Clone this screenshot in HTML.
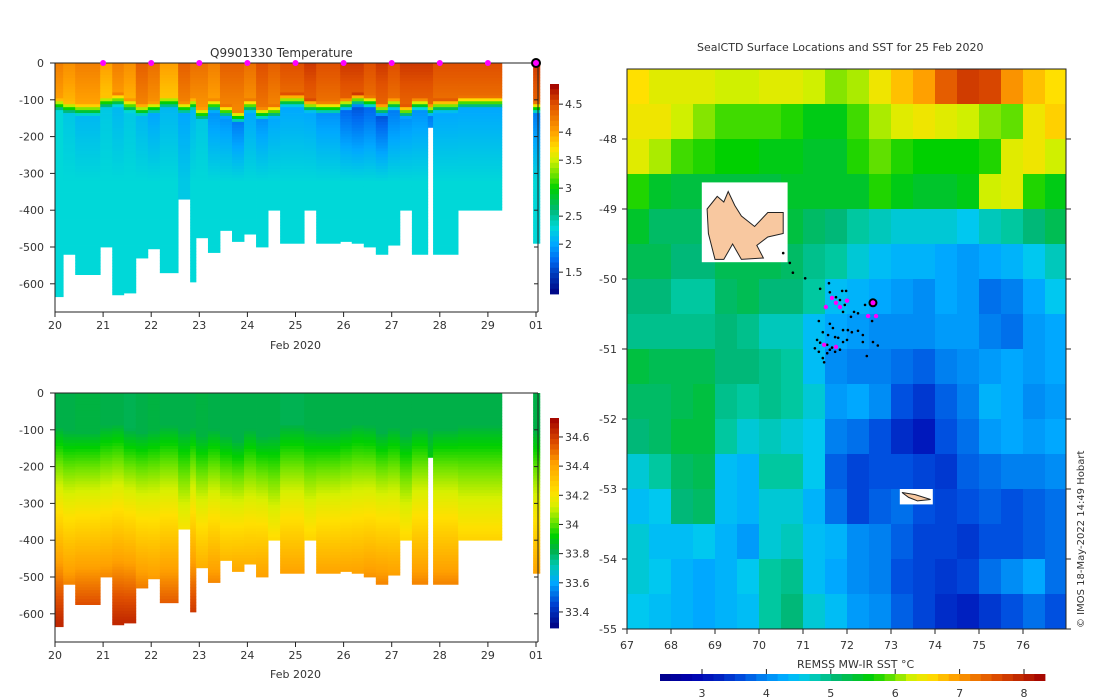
<!DOCTYPE html>
<html><head><meta charset="utf-8">
<style>
html,body{margin:0;padding:0;background:#fff;}
svg{display:block;font-family:"DejaVu Sans","Liberation Sans",sans-serif;}
text{fill:#333;font-size:11px;}
</style></head>
<body>
<svg id="fig" width="1100" height="700" viewBox="0 0 1100 700">
<g id="tempPanel"></g>
<g id="salPanel"></g>
<g id="mapPanel"></g>
<text x="210" y="57" style="font-size:12px">Q9901330  Temperature</text>
<text x="697" y="51" style="font-size:11px">SealCTD Surface Locations and SST for 25 Feb 2020</text>
<text x="270" y="349" style="font-size:11px">Feb 2020</text>
<text x="270" y="678" style="font-size:11px">Feb 2020</text>
<text x="797" y="668" style="font-size:11px">REMSS MW-IR SST °C</text>
<text transform="translate(1084,628) rotate(-90)" style="font-size:10px">© IMOS 18-May-2022 14:49 Hobart</text>
</svg>
<script>
// ---------- profile data ----------
const profStart = [20.0,20.17,20.42,20.94,21.19,21.43,21.68,21.93,22.18,22.56,22.81,22.93,23.18,23.43,23.68,23.93,24.18,24.43,24.68,25.18,25.43,25.93,26.17,26.42,26.67,26.92,27.17,27.42,27.75,27.86,28.38,29.94];
const profEnd   = [20.17,20.42,20.94,21.19,21.43,21.68,21.93,22.18,22.56,22.81,22.93,23.18,23.43,23.68,23.93,24.18,24.43,24.68,25.18,25.43,25.93,26.17,26.42,26.67,26.92,27.17,27.42,27.75,27.86,28.38,29.29,30.08];
const profMaxDepth = [635,520,575,500,630,625,530,505,570,370,595,475,515,455,485,465,500,400,490,400,490,485,490,500,520,495,400,520,175,520,400,490];
const profMLD = [90,100,105,85,80,95,105,100,85,100,90,115,95,110,125,95,115,110,80,95,100,90,80,85,105,90,110,90,105,95,85,100];
const profSurfT = [4.2,4.1,4.2,4.0,4.2,4.1,4.4,4.3,4.0,4.4,4.3,4.3,4.2,4.4,4.4,4.3,4.5,4.4,4.5,4.6,4.5,4.6,4.6,4.5,4.6,4.5,4.6,4.6,4.6,4.5,4.5,4.6];
const profMinT = [2.3,2.2,2.1,2.2,2.1,2.2,2.1,2.0,2.1,2.0,2.1,2.2,1.9,1.9,1.8,2.0,1.9,2.0,2.0,2.0,1.9,1.7,1.6,1.7,1.6,1.8,1.9,1.9,1.8,2.0,2.0,1.8];
const profDeepT = [2.3,2.3,2.3,2.3,2.3,2.3,2.3,2.3,2.3,2.2,2.3,2.3,2.3,2.3,2.3,2.3,2.3,2.3,2.3,2.3,2.3,2.3,2.3,2.3,2.3,2.3,2.3,2.3,2.3,2.3,2.3,2.3];
const profSurfS = [33.82,33.82,33.83,33.82,33.82,33.81,33.82,33.83,33.82,33.82,33.82,33.83,33.82,33.82,33.82,33.82,33.82,33.82,33.81,33.82,33.82,33.82,33.82,33.82,33.82,33.82,33.82,33.82,33.82,33.82,33.82,33.82];
const profDeepS = [34.64,34.6,34.62,34.62,34.64,34.64,34.6,34.58,34.6,34.5,34.64,34.56,34.6,34.56,34.58,34.56,34.58,34.5,34.58,34.52,34.58,34.58,34.58,34.6,34.6,34.58,34.52,34.6,34.3,34.6,34.52,34.58];
const stationDays = [21,22,23,24,25,26,27,28,29];
const depthTicks = [0,-100,-200,-300,-400,-500,-600];
const dayTicks = [20,21,22,23,24,25,26,27,28,29,30];
const dayTickLabels = ["20","21","22","23","24","25","26","27","28","29","01"];
const tempCbTicks = [1.5,2,2.5,3,3.5,4,4.5];
const salCbTicks = [33.4,33.6,33.8,34,34.2,34.4,34.6];

// ---------- map data (SST on 0.5 deg grid, rows from -47 southwards, lon 67..77) ----------
const sstRows = [
[6.7,6.5,6.5,6.5,6.4,6.4,6.5,6.5,6.4,6.2,6.3,6.6,6.9,7.1,7.6,7.9,7.8,7.2,6.9,6.7],
[6.6,6.6,6.4,6.2,6.0,6.0,6.0,5.9,5.7,5.7,6.0,6.3,6.5,6.6,6.5,6.4,6.2,6.1,6.6,6.8],
[6.5,6.3,6.0,5.9,5.8,5.8,5.7,5.7,5.6,5.6,5.9,6.1,5.9,5.8,5.8,5.8,5.9,6.5,6.6,6.4],
[5.9,5.6,5.5,5.5,5.5,5.5,5.5,5.6,5.6,5.6,5.6,5.9,5.7,5.6,5.6,5.7,6.4,6.5,5.9,5.7],
[5.6,5.3,5.3,5.3,5.3,5.3,5.4,5.5,5.3,5.2,5.0,4.9,4.8,4.8,4.8,4.7,4.9,5.0,5.2,5.4],
[5.4,5.4,5.2,5.2,5.4,5.4,5.4,5.3,5.1,5.0,4.8,4.6,4.5,4.5,4.4,4.3,4.4,4.5,4.7,4.9],
[5.2,5.2,5.0,5.0,5.3,5.4,5.2,5.2,5.0,4.6,4.5,4.4,4.3,4.2,4.4,4.3,4.0,4.1,4.4,4.7],
[5.1,5.1,5.1,5.1,5.2,5.1,4.9,4.9,4.6,4.4,4.3,4.2,4.2,4.2,4.3,4.3,4.1,4.0,4.3,4.4],
[5.5,5.4,5.4,5.4,5.2,5.2,5.1,5.0,4.6,4.2,4.1,4.1,4.0,3.9,4.1,4.2,4.3,4.4,4.3,4.4],
[5.3,5.3,5.4,5.5,5.1,5.0,5.1,5.0,4.8,4.3,4.4,4.2,3.8,3.6,3.9,4.1,4.5,4.4,4.2,4.3],
[5.2,5.3,5.5,5.5,5.0,4.8,4.9,4.8,4.7,4.1,4.0,3.8,3.5,3.3,3.8,4.0,4.3,4.4,4.3,4.4],
[4.8,5.0,5.3,5.4,4.6,4.5,5.0,5.0,4.7,3.9,3.7,3.8,3.8,3.7,3.6,3.9,4.0,4.1,4.1,4.2],
[4.6,4.7,5.2,5.3,4.6,4.5,4.8,4.8,4.5,4.0,3.7,3.9,4.0,3.8,3.7,3.8,3.9,3.8,3.9,4.0],
[4.8,4.6,4.6,4.7,4.5,4.3,4.8,4.9,4.6,4.5,4.2,4.1,3.9,3.7,3.7,3.6,3.8,3.8,3.9,4.0],
[4.8,4.7,4.5,4.4,4.5,4.7,5.0,5.1,4.6,4.4,4.2,4.1,3.8,3.7,3.6,3.7,4.0,4.2,4.4,4.0],
[4.7,4.6,4.5,4.4,4.5,4.6,5.0,5.2,4.8,4.6,4.3,4.2,3.9,3.7,3.5,3.4,3.6,3.8,4.0,3.8]];
const ctdLon = [70.55,70.70,70.77,71.05,71.59,71.39,71.61,71.75,71.89,71.98,71.84,71.95,71.91,72.16,72.25,72.09,72.41,72.57,71.36,71.61,71.68,71.45,71.57,71.91,72.02,72.11,72.25,72.36,71.73,71.80,72.00,71.32,71.39,71.27,71.55,71.61,71.73,71.84,71.45,71.48,71.91,72.36,72.59,71.36,71.55,72.70,72.45,71.66];
const ctdLat = [-49.63,-49.77,-49.91,-49.99,-50.06,-50.14,-50.19,-50.26,-50.17,-50.17,-50.30,-50.37,-50.47,-50.47,-50.49,-50.54,-50.37,-50.60,-50.60,-50.64,-50.70,-50.76,-50.80,-50.73,-50.73,-50.76,-50.74,-50.80,-50.83,-50.84,-50.87,-50.87,-50.91,-50.99,-50.94,-51.01,-51.04,-51.01,-51.13,-51.19,-50.90,-50.90,-50.90,-51.04,-51.06,-50.95,-51.10,-50.98];
const magLon = [71.66,71.75,71.52,71.84,72.00,72.48,72.66,71.48,71.75];
const magLat = [-50.27,-50.34,-50.40,-50.40,-50.31,-50.53,-50.53,-50.94,-50.97];
const lastLon = [72.59];
const lastLat = [-50.34];
const lonTicks = [67,68,69,70,71,72,73,74,75,76];
const latTicks = [-48,-49,-50,-51,-52,-53,-54,-55];
const sstCbTicks = [3,4,5,6,7,8];
const kergLon = [68.82,69.05,69.2,69.3,69.45,69.6,69.9,70.2,70.55,70.55,70.2,69.95,70.1,69.6,69.4,69.2,69.0,68.85];
const kergLat = [-49.0,-48.82,-48.9,-48.75,-48.95,-49.1,-49.25,-49.05,-49.05,-49.35,-49.4,-49.52,-49.7,-49.72,-49.5,-49.72,-49.72,-49.35];
const heardLon = [73.25,73.55,73.9,73.6,73.4];
const heardLat = [-53.05,-53.08,-53.15,-53.17,-53.12];

// ---------- helpers ----------
const NS="http://www.w3.org/2000/svg";
function mk(tag,attrs,parent){const e=document.createElementNS(NS,tag);for(const k in attrs)e.setAttribute(k,attrs[k]);parent.appendChild(e);return e;}
function hex(c){return [parseInt(c.slice(1,3),16),parseInt(c.slice(3,5),16),parseInt(c.slice(5,7),16)];}
function cmap(stops){return function(v){if(v<=stops[0][0])return stops[0][1];if(v>=stops[stops.length-1][0])return stops[stops.length-1][1];
 for(let i=0;i<stops.length-1;i++){const a=stops[i],b=stops[i+1];if(v>=a[0]&&v<=b[0]){const t=(v-a[0])/(b[0]-a[0]);const ca=hex(a[1]),cb=hex(b[1]);
 return "rgb("+ca.map((x,j)=>Math.round(x+(cb[j]-x)*t)).join(",")+")";}}};}
const tempC = cmap([[1.1,"#000080"],[1.5,"#0040c0"],[1.7,"#0068f0"],[2.0,"#00a8ff"],[2.3,"#00d8d8"],[2.6,"#00b878"],[3.0,"#00d000"],[3.2,"#60e000"],[3.5,"#d0f000"],[3.7,"#ffe000"],[4.0,"#ffa000"],[4.5,"#e05000"],[4.85,"#a00000"]]);
const salC = cmap([[33.29,"#000080"],[33.45,"#0040d0"],[33.6,"#00a8ff"],[33.72,"#00c8b0"],[33.82,"#00b048"],[33.92,"#00d000"],[34.02,"#70e400"],[34.12,"#d8f000"],[34.22,"#ffe000"],[34.32,"#ffc000"],[34.42,"#ffa000"],[34.55,"#e05000"],[34.73,"#a00000"]]);
const sstC = cmap([[2.4,"#000080"],[3.0,"#0000b0"],[3.4,"#0020c0"],[3.8,"#0050e0"],[4.1,"#0080f0"],[4.4,"#00a8ff"],[4.7,"#00c8f0"],[5.0,"#00c8a0"],[5.2,"#00b878"],[5.5,"#00c040"],[5.8,"#00d000"],[6.1,"#60e000"],[6.4,"#d0f000"],[6.7,"#ffe000"],[7.1,"#ffa000"],[7.7,"#e05000"],[8.5,"#a00000"]]);

function tempAt(i,z){const m=profMLD[i];if(z<m)return profSurfT[i]-0.002*z;if(z<m+35)return profSurfT[i]+(profMinT[i]-profSurfT[i])*(z-m)/35;
 if(z<320)return profMinT[i]+(profDeepT[i]-profMinT[i])*(z-m-35)/(320-m-35);return profDeepT[i];}
function salAt(i,z){const m=profMLD[i];if(z<m)return profSurfS[i];const s2=profDeepS[i];return profSurfS[i]+(s2-profSurfS[i])*Math.min(1,Math.pow((z-m)/(620-m),0.85));}

function drawProfilePanel(g,top,colorFn,valFn,cbTop,cbBot,cbMin,cbMax,cbTicks,cbFmt,prefix){
 const x0=55,xr=48.1,pxPer100=36.8;
 const X=d=>x0+(d-20)*xr, Y=z=>top+z*pxPer100/100;
 for(let i=0;i<profStart.length;i++){
  const col=mk("g",{},g);
  
  
  const xa=X(profStart[i]),xb=X(profEnd[i]);
  for(let z=0;z<profMaxDepth[i];z+=8){const h=Math.min(8,profMaxDepth[i]-z);
   mk("rect",{x:xa.toFixed(2),y:Y(z).toFixed(2),width:(xb-xa+0.4).toFixed(2),height:(h*pxPer100/100+0.4).toFixed(2),fill:colorFn(valFn(i,z))},col);}
 }
 const yb=top+249;
 const ax=mk("g",{},g);
 mk("line",{x1:55,y1:top,x2:55,y2:yb,stroke:"#222"},ax);
 mk("line",{x1:55,y1:yb,x2:538,y2:yb,stroke:"#222"},ax);
 mk("line",{x1:55,y1:top,x2:538,y2:top,stroke:"#222"},ax);
 mk("line",{x1:538,y1:top,x2:538,y2:yb,stroke:"#222"},ax);
 depthTicks.forEach(t=>{const y=Y(-t);mk("line",{x1:50,y1:y,x2:55,y2:y,stroke:"#222"},ax);mk("line",{x1:534,y1:y,x2:538,y2:y,stroke:"#222"},ax);
  const tx=mk("text",{x:44,y:y+4,"text-anchor":"end"},ax);tx.textContent=String(t);
  });
 dayTicks.forEach((d,k)=>{const x=X(d);mk("line",{x1:x,y1:yb,x2:x,y2:yb+5,stroke:"#222"},ax);
  const tx=mk("text",{x:x,y:yb+17,"text-anchor":"middle"},ax);tx.textContent=dayTickLabels[k];
  });
 const cb=mk("g",{},g);
 const n=40,h=(cbBot-cbTop)/n;
 for(let k=0;k<n;k++){const v=cbMax-(k+0.5)*(cbMax-cbMin)/n;mk("rect",{x:550,y:(cbTop+k*h).toFixed(2),width:9,height:(h+0.4).toFixed(2),fill:colorFn(v)},cb);}
 cbTicks.forEach(t=>{const y=cbTop+(cbMax-t)/(cbMax-cbMin)*(cbBot-cbTop);mk("line",{x1:559,y1:y,x2:563,y2:y,stroke:"#222"},cb);
  const tx=mk("text",{x:565,y:y+4},cb);tx.textContent=cbFmt(t);});
 return {X,Y};
}
const tp=drawProfilePanel(document.getElementById("tempPanel"),63,tempC,tempAt,84,294,1.11,4.86,tempCbTicks,t=>String(t),"temp");
const sp=drawProfilePanel(document.getElementById("salPanel"),393,salC,salAt,418,628,33.29,34.73,salCbTicks,t=>String(t),"sal");
const tg=document.getElementById("tempPanel");
stationDays.forEach(d=>{const s=mk("circle",{cx:tp.X(d),cy:63,r:3,fill:"#ff00ff"},tg);
 });
{const c=mk("circle",{cx:tp.X(30),cy:63,r:4,fill:"#ff00ff",stroke:"#000","stroke-width":2},tg);
 }

// ---------- map ----------
const mg=document.getElementById("mapPanel");
const MX=lon=>627+(lon-67)*44, MY=lat=>69+(-47-lat)*70;
const cells=mk("g",{},mg);
sstRows.forEach((row,r)=>row.forEach((v,c)=>{const lon=67+c*0.5,lat=-47-r*0.5;
 const x=MX(lon),y=MY(lat);const x2=Math.min(MX(lon+0.5),1066);
 mk("rect",{x:x.toFixed(1),y:y.toFixed(1),width:(x2-x+0.5).toFixed(1),height:35.5,fill:sstC(v)},cells);}));
function poly(lons,lats,fill,stroke,name){const p=mk("polygon",{points:lons.map((l,i)=>MX(l).toFixed(1)+","+MY(lats[i]).toFixed(1)).join(" "),fill:fill,stroke:stroke,"stroke-width":1},mg);
 }
{const w=mk("rect",{x:MX(68.7),y:MY(-48.62),width:MX(70.65)-MX(68.7),height:MY(-49.76)-MY(-48.62),fill:"#fff"},mg);
 }
poly(kergLon,kergLat,"#f8c8a0","#222","kerguelen-island");
{const w=mk("rect",{x:MX(73.2),y:MY(-53.0),width:MX(73.95)-MX(73.2),height:MY(-53.22)-MY(-53.0),fill:"#fff"},mg);
 }
poly(heardLon,heardLat,"#f8c8a0","#222","heard-island");
ctdLon.forEach((l,i)=>{const d=mk("circle",{cx:MX(l),cy:MY(ctdLat[i]),r:1.3,fill:"#000"},mg);
 });
magLon.forEach((l,i)=>{const d=mk("circle",{cx:MX(l),cy:MY(magLat[i]),r:2.2,fill:"#ff00ff"},mg);
 });
lastLon.forEach((l,i)=>{const d=mk("circle",{cx:MX(l),cy:MY(lastLat[i]),r:3.5,fill:"#ff00ff",stroke:"#000","stroke-width":2},mg);
 });
const max=mk("g",{},mg);
mk("rect",{x:627,y:69,width:439,height:560,fill:"none",stroke:"#222"},max);
lonTicks.forEach(l=>{const x=MX(l);mk("line",{x1:x,y1:629,x2:x,y2:634,stroke:"#222"},max);
 const t=mk("text",{x:x,y:649,"text-anchor":"middle"},max);t.textContent=String(l);
 });
latTicks.forEach(l=>{const y=MY(l);mk("line",{x1:622,y1:y,x2:627,y2:y,stroke:"#222"},max);mk("line",{x1:1066,y1:y,x2:1071,y2:y,stroke:"#222"},max);
 const t=mk("text",{x:617,y:y+4,"text-anchor":"end"},max);t.textContent=String(l);
 });
const scb=mk("g",{},mg);
const CX=v=>702+(v-3)*64.4;
for(let k=0;k<36;k++){const v=2.5+(k+0.5)*(6.0/36);const x=660+k*(385/36);mk("rect",{x:x.toFixed(2),y:674,width:(385/36+0.4).toFixed(2),height:7,fill:sstC(v)},scb);}
sstCbTicks.forEach(v=>{const x=CX(v);mk("line",{x1:x,y1:669,x2:x,y2:674,stroke:"#222"},scb);
 const t=mk("text",{x:x,y:697,"text-anchor":"middle"},scb);t.textContent=String(v);
 });
</script>
</body></html>
